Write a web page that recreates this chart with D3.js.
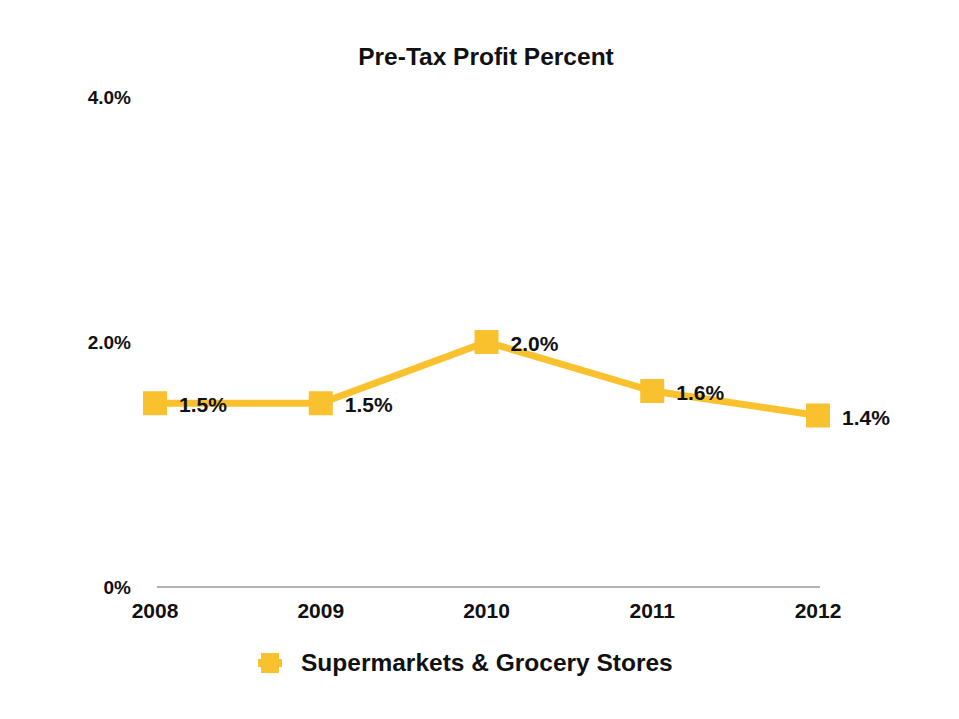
<!DOCTYPE html>
<html><head><meta charset="utf-8">
<script src="https://cdn.jsdelivr.net/npm/d3@7"></script>
<style>body{margin:0;background:#fff}svg{display:block}text{font-family:"Liberation Sans",Arial,sans-serif;font-weight:bold;fill:#111}</style>
</head><body><svg id="c" width="959" height="719"></svg>
<script>
const years = ["2008","2009","2010","2011","2012"];
const values = [1.5, 1.5, 2.0, 1.6, 1.4];
const yTicks = [0, 2, 4];
const yTickLabels = ["0%", "2.0%", "4.0%"];
const seriesName = "Supermarkets & Grocery Stores";
const title = "Pre-Tax Profit Percent";

const color = "#FAC12E";
const svg = d3.select("#c");
const x = d3.scalePoint().domain(years).range([155, 818]);
const y = d3.scaleLinear().domain([0, 4]).range([587, 97]);

svg.append("text").attr("x", 486).attr("y", 65).attr("text-anchor", "middle")
  .style("font-size", "24.5px").text(title);

// y tick labels
svg.selectAll(".yl").data(yTicks).enter().append("text")
  .attr("x", 131).attr("y", d => y(d) + 7).attr("text-anchor", "end")
  .style("font-size", "19px").text((d, i) => yTickLabels[i]);

// baseline axis
svg.append("line").attr("x1", 157).attr("x2", 820).attr("y1", y(0)).attr("y2", y(0))
  .attr("stroke", "#999").attr("stroke-width", 1.5);

// x labels
svg.selectAll(".xl").data(years).enter().append("text")
  .attr("x", d => x(d)).attr("y", 618).attr("text-anchor", "middle")
  .style("font-size", "21px").text(d => d);

// line
const line = d3.line().x((d, i) => x(years[i])).y(d => y(d));
svg.append("path").datum(values).attr("d", line).attr("fill", "none")
  .attr("stroke", color).attr("stroke-width", 7).attr("stroke-linejoin", "round");

// markers
const s = 24;
svg.selectAll(".m").data(values).enter().append("rect")
  .attr("x", (d, i) => x(years[i]) - s / 2).attr("y", d => y(d) - s / 2)
  .attr("width", s).attr("height", s).attr("fill", color);

// value labels
svg.selectAll(".vl").data(values).enter().append("text")
  .attr("x", (d, i) => x(years[i]) + 24).attr("y", d => y(d) + 9)
  .style("font-size", "21px").text(d => d.toFixed(1) + "%");

// legend
const lx = 270, ly = 663;
svg.append("line").attr("x1", lx - 12).attr("x2", lx + 12).attr("y1", ly).attr("y2", ly)
  .attr("stroke", color).attr("stroke-width", 8);
svg.append("rect").attr("x", lx - 9).attr("y", ly - 10).attr("width", 18).attr("height", 20).attr("fill", color);
svg.append("text").attr("x", 301).attr("y", ly + 8).style("font-size", "24.5px").text(seriesName);
</script></body></html>
